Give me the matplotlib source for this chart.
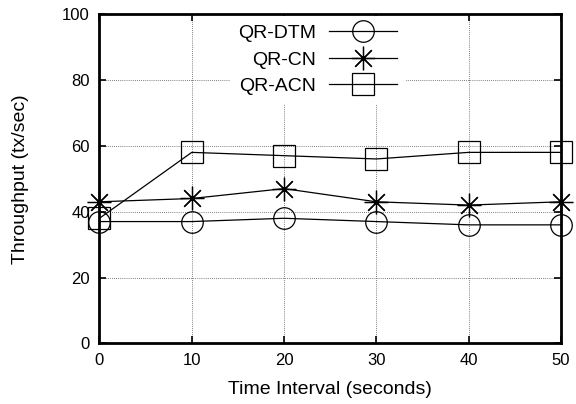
import matplotlib
matplotlib.use("Agg")
import matplotlib.pyplot as plt

# === DATA ===
time_s = [0, 10, 20, 30, 40, 50]
qr_dtm = [37, 37, 38, 37, 36, 36]
qr_cn = [43, 44, 47, 43, 42, 43]
qr_acn = [38, 58, 57, 56, 58, 58]
labels = ["QR-DTM", "QR-CN", "QR-ACN"]
markers = ["o", (8, 2, 0), "s"]

plt.rcParams["font.family"] = ["Liberation Sans", "DejaVu Sans"]
plt.rcParams["font.size"] = 12

fig = plt.figure(figsize=(5.76, 4.04), dpi=100)
ax = fig.add_axes([0.1727, 0.1498, 0.801, 0.8156])

for ys, lab, m in zip([qr_dtm, qr_cn, qr_acn], labels, markers):
    ms = 17 if m == (8, 2, 0) else 15.5
    ax.plot(time_s, ys, color="black", lw=0.9, marker=m, ms=ms,
            mfc="none", mec="black", mew=0.9, label=lab, clip_on=False)

ax.set_xlim(0, 50)
ax.set_ylim(0, 100)
ax.set_xticks(time_s)
ax.set_yticks([0, 20, 40, 60, 80, 100])
ax.grid(True, linestyle=(0, (1, 1.5)), color="#555555", lw=0.6)
ax.set_axisbelow(True)
ax.tick_params(direction="in", length=5, width=1.2, top=True, right=True,
               pad=7, labelsize=12)
for sp in ax.spines.values():
    sp.set_linewidth(2)
    sp.set_zorder(6)

ax.set_xlabel("Time Interval (seconds)", fontsize=14, labelpad=9)
ax.set_ylabel("Throughput (tx/sec)", fontsize=14, labelpad=24)

leg = ax.legend(loc="upper right", bbox_to_anchor=(0.668, 1.0), markerfirst=False,
                fontsize=14, handlelength=3.5, labelspacing=0.45,
                borderaxespad=0.1, borderpad=0.45,
                frameon=True, fancybox=False, handletextpad=0.65)
leg.get_frame().set_edgecolor("none")
leg.get_frame().set_facecolor("white")
leg.get_frame().set_alpha(1)
for t in leg.get_texts():
    t.set_ha("right")

fig.savefig("out.png", dpi=100)
